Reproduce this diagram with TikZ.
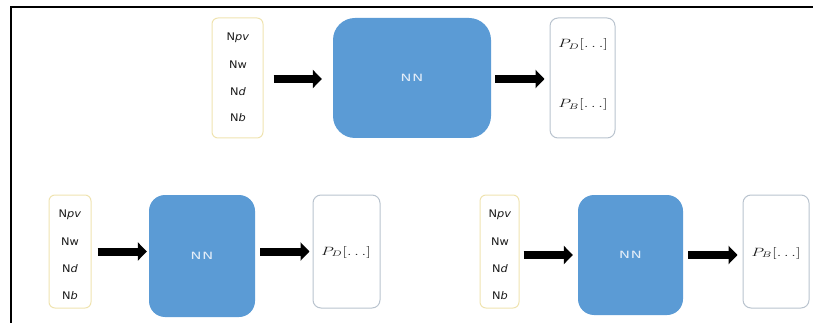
\documentclass[tikz,border=0pt]{standalone}
\usepackage{fontspec}
\newfontfamily\labelfont{DejaVu Sans}[FakeStretch=1.08]
\newfontfamily\nnfont{DejaVu Sans}[FakeStretch=1.45, LetterSpace=10]
\usetikzlibrary{arrows.meta}
\definecolor{nnblue}{HTML}{5B9BD5}
\definecolor{inedge}{HTML}{EFE3B0}
\definecolor{outedge}{HTML}{B9C3CE}
\definecolor{nntext}{HTML}{E3EDF8}
\definecolor{labtext}{HTML}{1A1A1A}
\tikzset{
  inbox/.style={draw=inedge, line width=1pt, rounded corners=6pt, inner sep=0pt},
  outbox/.style={draw=outedge, line width=1pt, rounded corners=8pt, inner sep=0pt},
  nnbox/.style={fill=nnblue, draw=none, inner sep=0pt, text=nntext, font=\nnfont\fontsize{10}{11}\selectfont},
  lab/.style={text=labtext, font=\labelfont\fontsize{10.5}{12}\selectfont, anchor=base, inner sep=0pt},
  plab/.style={text=labtext, font=\fontsize{12}{14}\selectfont, inner sep=0pt},
  fatarrow/.style={line width=8pt, -{Triangle[length=9pt,width=18pt]}},
  frameline/.style={line width=2pt, line cap=rect}
}
\newcommand{\pout}[1]{\scalebox{1.4}[1]{$P_{#1}[\ldots]$}}
\begin{document}
\begin{tikzpicture}[x=1pt,y=-1pt]
\useasboundingbox (0,0) rectangle (813,323);
% border lines
\draw[frameline] (10.5,323) -- (10.5,7.5) -- (813,7.5);

% ---- top chain ----
\node[inbox, minimum width=51pt, minimum height=120pt] (in1) at (237.5,78) {};
\node[lab] (in1a) at (238,41) {N\textit{pv}};
\node[lab] (in1b) at (238,69) {Nw};
\node[lab] (in1c) at (238,96) {N\textit{d}};
\node[lab] (in1d) at (238,122) {N\textit{b}};
\node[nnbox, rounded corners=22pt, minimum width=158pt, minimum height=120pt] (nn1) at (412,78) {NN};
\node[outbox, minimum width=65pt, minimum height=120pt] (out1) at (582.5,78) {};
\node[plab] (out1a) at (583,45) {\pout{D}};
\node[plab] (out1b) at (583,105) {\pout{B}};
\draw[fatarrow, shorten <=10pt, shorten >=11pt] ([yshift=-1pt]in1.east) -- ([yshift=-1pt]nn1.west);
\draw[fatarrow, shorten <=4pt, shorten >=5pt] ([yshift=-1pt]nn1.east) -- ([yshift=-1pt]out1.west);

% ---- bottom left chain ----
\node[inbox, minimum width=42pt, minimum height=113pt] (in2) at (70,251.5) {};
\node[lab] (in2a) at (70,217) {N\textit{pv}};
\node[lab] (in2b) at (70,245.5) {Nw};
\node[lab] (in2c) at (70,272.5) {N\textit{d}};
\node[lab] (in2d) at (70,299) {N\textit{b}};
\node[nnbox, rounded corners=16pt, minimum width=106pt, minimum height=122pt] (nn2) at (202,256) {NN};
\node[outbox, minimum width=67pt, minimum height=113pt] (out2) at (346.5,251.5) {};
\node[plab] (out2a) at (346,252) {\pout{D}};
\draw[fatarrow, shorten <=6pt, shorten >=2pt] (in2.east) -- (in2.east -| nn2.west);
\draw[fatarrow, shorten <=5pt, shorten >=3pt] (nn2.east |- out2.west) -- (out2.west);

% ---- bottom right chain ----
\node[inbox, minimum width=39pt, minimum height=113pt] (in3) at (499.5,251.5) {};
\node[lab] (in3a) at (500,217.5) {N\textit{pv}};
\node[lab] (in3b) at (500,245.5) {Nw};
\node[lab] (in3c) at (500,272.5) {N\textit{d}};
\node[lab] (in3d) at (500,299.5) {N\textit{b}};
\node[nnbox, rounded corners=16pt, minimum width=105pt, minimum height=120pt] (nn3) at (630.5,255) {NN};
\node[outbox, minimum width=66pt, minimum height=113pt] (out3) at (776,251.5) {};
\node[plab] (out3a) at (776,253) {\pout{B}};
\draw[fatarrow, shorten <=4pt, shorten >=5pt] (in3.east |- nn3.west) -- (nn3.west);
\draw[fatarrow, shorten <=5pt, shorten >=5pt] (nn3.east) -- (nn3.east -| out3.west);
\end{tikzpicture}
\end{document}
